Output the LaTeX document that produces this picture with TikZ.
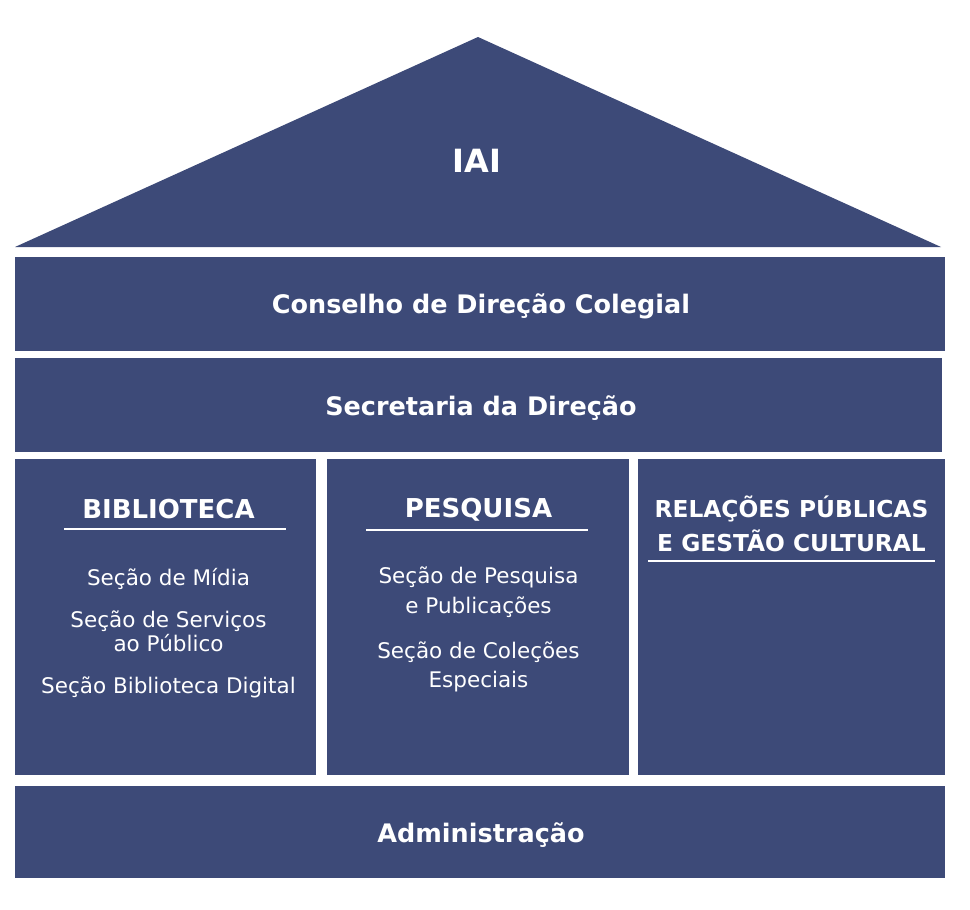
\documentclass[tikz,border=0pt]{standalone}
\usepackage{fontspec}
\setmainfont{DejaVu Sans}
\definecolor{iaiblue}{RGB}{61,74,120}
\begin{document}
\begin{tikzpicture}[x=1pt,y=-1pt,
  block/.style={fill=iaiblue,draw=none,inner sep=0pt,anchor=north west},
  title/.style={text=white,font=\bfseries\fontsize{25.5}{30}\selectfont,anchor=base,inner sep=0pt},
  head/.style={text=white,font=\bfseries\fontsize{26}{30}\selectfont,anchor=base,inner sep=0pt},
  item/.style={text=white,font=\fontsize{21.5}{24}\selectfont,anchor=base,inner sep=0pt},
  rule/.style={draw=white,line width=1.6pt}]
\useasboundingbox (0,0) rectangle (970,910);
% roof
\coordinate (apex) at (478,37);
\coordinate (roofL) at (15,247);
\coordinate (roofR) at (941,247);
\fill[iaiblue] (apex) -- (roofR) -- (roofL) -- cycle;
\node[title,font=\bfseries\fontsize{32}{36}\selectfont] (iai) at (477,172) {IAI};
% rows
\node[block,minimum width=930pt,minimum height=94pt] (conselho) at (15,257) {};
\node[title] (conselhoT) at (481,313) {Conselho de Direção Colegial};
\node[block,minimum width=927pt,minimum height=94pt] (secretaria) at (15,358) {};
\node[title] (secretariaT) at (481,415) {Secretaria da Direção};
% columns
\node[block,minimum width=301pt,minimum height=316pt] (bib) at (15,459) {};
\node[block,minimum width=302pt,minimum height=316pt] (pes) at (327,459) {};
\node[block,minimum width=307pt,minimum height=316pt] (rp) at (638,459) {};
% admin
\node[block,minimum width=930pt,minimum height=92pt] (adm) at (15,786) {};
\node[title] (admT) at (481,842) {Administração};
% BIBLIOTECA
\node[head] (bibH) at (168.5,518) {BIBLIOTECA};
\coordinate (bibUL) at (64,529); \coordinate (bibUR) at (286,529);
\draw[rule] (bibUL) -- (bibUR);
\node[item] (bib1) at (168.5,585) {Seção de Mídia};
\node[item] (bib2a) at (168.5,627) {Seção de Serviços};
\node[item] (bib2b) at (168.5,651) {ao Público};
\node[item] (bib3) at (168.5,693) {Seção Biblioteca Digital};
% PESQUISA
\node[head] (pesH) at (478.5,517) {PESQUISA};
\coordinate (pesUL) at (366,530); \coordinate (pesUR) at (588,530);
\draw[rule] (pesUL) -- (pesUR);
\node[item] (pes1a) at (478.5,583) {Seção de Pesquisa};
\node[item] (pes1b) at (478.5,613) {e Publicações};
\node[item] (pes2a) at (478.5,658) {Seção de Coleções};
\node[item] (pes2b) at (478.5,687) {Especiais};
% RELAÇÕES
\node[head,font=\bfseries\fontsize{23.3}{30}\selectfont] (rpH1) at (791.5,517) {RELAÇÕES PÚBLICAS};
\node[head,font=\bfseries\fontsize{23.3}{30}\selectfont] (rpH2) at (791.5,551) {E GESTÃO CULTURAL};
\coordinate (rpUL) at (648,561); \coordinate (rpUR) at (935,561);
\draw[rule] (rpUL) -- (rpUR);
\end{tikzpicture}
\end{document}
